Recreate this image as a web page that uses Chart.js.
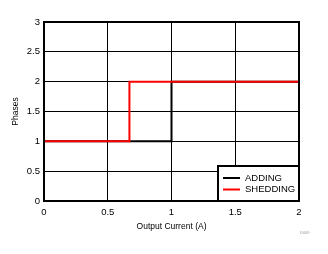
<!DOCTYPE html>
<html>
<head>
<meta charset="utf-8">
<script src="https://cdn.jsdelivr.net/npm/chart.js@4/dist/chart.umd.min.js"></script>
<style>
  html, body { margin: 0; padding: 0; background: #fff; }
  #wrap { width: 328px; height: 254px; position: relative; }
</style>
</head>
<body>
<div id="wrap"><canvas id="myChart" width="328" height="254"></canvas></div>
<script>
/* Phases vs output current */

let series_names = ["ADDING", "SHEDDING"];
let series_colors = ["#000000", "#ff0000"];

let adding_x = [0, 1, 1, 2];
let adding_y = [1, 1, 2, 2];

let shedding_x = [0, 0.67, 0.67, 2];
let shedding_y = [1, 1, 2, 2];

let x_ticks = [0, 0.5, 1, 1.5, 2];
let y_ticks = [0, 0.5, 1, 1.5, 2, 2.5, 3];

let x_title = "Output Current (A)";
let y_title = "Phases";
let fig_code = "D009";

function to_points(xs, ys) {
  let pts = [];
  xs.forEach((x, i) => {
    pts.push({ x: x, y: ys[i] });
  });
  return pts;
}

Chart.defaults.font.family = "'Liberation Sans', Arial, sans-serif";
Chart.defaults.color = "#000";

// frame + legend box + figure code, drawn last
let extras = {
  id: "extras",
  afterDraw(chart) {
    let ctx = chart.ctx;
    let a = chart.chartArea;
    ctx.save();
    ctx.strokeStyle = "#000";
    ctx.lineWidth = 2;
    ctx.strokeRect(a.left, a.top, a.right - a.left, a.bottom - a.top);

    // legend
    let bx = 218, by = 166, bw = a.right - 218, bh = a.bottom - 166;
    ctx.fillStyle = "#fff";
    ctx.fillRect(bx, by, bw, bh);
    ctx.strokeRect(bx, by, bw, bh);
    ctx.font = "9.5px 'Liberation Sans', Arial, sans-serif";
    ctx.textBaseline = "middle";
    series_names.forEach((name, i) => {
      let yy = 178 + i * 11.5;
      ctx.strokeStyle = series_colors[i];
      ctx.beginPath();
      ctx.moveTo(223, yy);
      ctx.lineTo(240, yy);
      ctx.stroke();
      ctx.fillStyle = "#000";
      ctx.fillText(name, 245, yy);
    });

    ctx.font = "4px 'Liberation Sans', Arial, sans-serif";
    ctx.fillStyle = "#999";
    ctx.fillText(fig_code, 300, 233);
    ctx.restore();
  }
};

new Chart("myChart", {
  type: "scatter",
  data: {
    datasets: [
      {
        label: series_names[0],
        data: to_points(adding_x, adding_y),
        showLine: true,
        borderColor: series_colors[0],
        backgroundColor: series_colors[0],
        borderWidth: 2,
        pointRadius: 0,
        order: 2,
      },
      {
        label: series_names[1],
        data: to_points(shedding_x, shedding_y),
        showLine: true,
        borderColor: series_colors[1],
        backgroundColor: series_colors[1],
        borderWidth: 2,
        pointRadius: 0,
        order: 1,
      },
    ],
  },
  options: {
    responsive: false,
    animation: false,
    layout: { padding: { top: 22, right: 29, left: 0, bottom: 0 } },
    plugins: {
      legend: { display: false },
      tooltip: { enabled: false },
    },
    scales: {
      x: {
        type: "linear",
        min: x_ticks[0],
        max: x_ticks[x_ticks.length - 1],
        afterFit: (s) => { s.height = 53; },
        afterBuildTicks: (s) => { s.ticks = x_ticks.map((v) => ({ value: v })); },
        ticks: { padding: 6, font: { size: 9.5 }, callback: (v) => String(v) },
        grid: { color: "#000", lineWidth: 1, drawTicks: false },
        border: { display: false },
        title: { display: true, text: x_title, font: { size: 8.5 }, padding: { top: 0, bottom: 22 } },
      },
      y: {
        type: "linear",
        min: y_ticks[0],
        max: y_ticks[y_ticks.length - 1],
        afterFit: (s) => { s.width = 44; },
        afterBuildTicks: (s) => { s.ticks = y_ticks.map((v) => ({ value: v })); },
        ticks: { padding: 4, font: { size: 9.5 }, callback: (v) => String(v) },
        grid: { color: "#000", lineWidth: 1, drawTicks: false },
        border: { display: false },
        title: { display: true, text: y_title, font: { size: 8.5 }, padding: { top: 11, bottom: 0 } },
      },
    },
  },
  plugins: [extras],
});
</script>
</body>
</html>
